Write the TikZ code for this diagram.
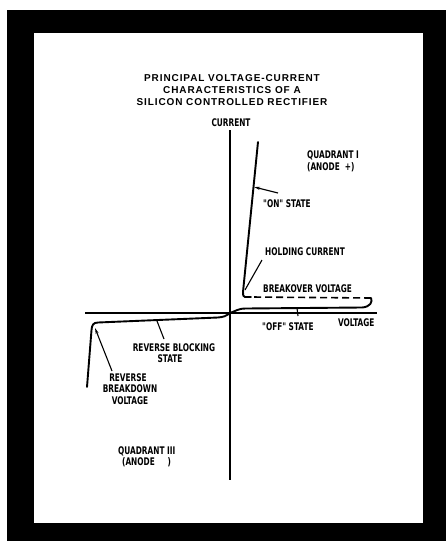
\documentclass[tikz,border=0pt]{standalone}
\usepackage{fontspec}
\setmainfont{Liberation Sans}
\newfontfamily\labfont{DejaVu Sans Condensed}
\usetikzlibrary{arrows.meta}
\tikzset{
  lab/.style={inner sep=0pt, font=\labfont\bfseries\fontsize{10.5}{11}\selectfont, xscale=0.78},
  ttl/.style={inner sep=0pt, font=\bfseries\fontsize{10}{12}\selectfont, align=center},
  axis/.style={line width=1.3pt},
  curve/.style={line width=1.9pt, line join=round, line cap=round},
  leader/.style={line width=1.1pt},
  tip/.style={-{Stealth[length=6pt,width=3pt]}, line width=1.1pt}
}
\begin{document}
\begin{tikzpicture}[x=1pt,y=-1pt]
\useasboundingbox (0,0) rectangle (446,543);
\fill[white] (0,0) rectangle (446,543);
\fill[black] (7,10) rectangle (446,541);
\fill[white] (34,33) rectangle (423,523);
% title
\node[ttl] (title) at (232,90) {\addfontfeature{LetterSpace=9}PRINCIPAL VOLTAGE-CURRENT\\\addfontfeature{LetterSpace=9}CHARACTERISTICS OF A\\\addfontfeature{LetterSpace=9}SILICON CONTROLLED RECTIFIER};
% axes
\coordinate (ytop) at (230,130);
\coordinate (ybot) at (230,480);
\coordinate (xl) at (85,313);
\coordinate (xr) at (377,313);
\coordinate (o) at (230,313);
\draw[axis] (ytop) -- (ybot);
\draw[axis] (xl) -- (xr);
\node[lab, transform shape] (cur) at (231,123) {CURRENT};
\node[lab, transform shape, anchor=west] (volt) at (338,323) {VOLTAGE};
% forward curves
\coordinate (bo) at (371,298);
\coordinate (hc) at (245,297);
\coordinate (ontop) at (258,142);
\draw[curve] (o) .. controls (236,311) and (238,308.5) .. (246,308.5) -- (362,307.5) .. controls (370,307) and (373,302) .. (bo);
\draw[line width=1.6pt, dash pattern=on 7pt off 4pt] (bo) -- (251,297);
\draw[curve] (251,297) -- (hc) .. controls (243,297) and (243,295) .. (243,292) -- (ontop);
% reverse curve
\coordinate (rb) at (87,387);
\draw[curve] (o) .. controls (226,316) and (224,317) .. (218,317.5) -- (98,322.5) .. controls (93,322.7) and (92,325) .. (91.5,330) -- (rb);
% quadrant labels
\node[lab, transform shape, anchor=west] (q1) at (307,155) {QUADRANT I};
\node[lab, transform shape, anchor=west] (q1b) at (307,167) {(ANODE\ \ +)};
\node[lab, transform shape, anchor=west] (q3) at (118,451) {QUADRANT III};
\node[lab, transform shape, anchor=west] (q3b) at (122,462) {(ANODE\ \ \ \ \ )};
% on state
\node[lab, transform shape, anchor=west] (on) at (263,204) {"ON" STATE};
\coordinate (onpt) at (254,187);
\draw[tip] (278,193) -- (onpt);
% holding current
\node[lab, transform shape, anchor=west] (hold) at (265,252) {HOLDING CURRENT};
\coordinate (hcpt) at (245,290);
\draw[leader] (262,260) -- (hcpt);
% breakover
\node[lab, transform shape, anchor=west] (brk) at (263,289) {BREAKOVER VOLTAGE};
% off state
\node[lab, transform shape, anchor=west] (off) at (262,327) {"OFF" STATE};
\coordinate (offpt) at (297,308);
\draw[leader] (offpt) -- (298,316);
% reverse blocking
\node[lab, transform shape] (rbs) at (174,348) {REVERSE BLOCKING};
\node[lab, transform shape] (rbs2) at (170,359) {STATE};
\coordinate (rbpt) at (157,321);
\draw[leader] (rbpt) -- (164,339);
% reverse breakdown
\node[lab, transform shape] (rbd1) at (128,378) {REVERSE};
\node[lab, transform shape] (rbd2) at (130,389) {BREAKDOWN};
\node[lab, transform shape] (rbd3) at (130,401) {VOLTAGE};
\coordinate (rbdpt) at (95,328);
\draw[tip] (112,371) -- (rbdpt);
\end{tikzpicture}
\end{document}
